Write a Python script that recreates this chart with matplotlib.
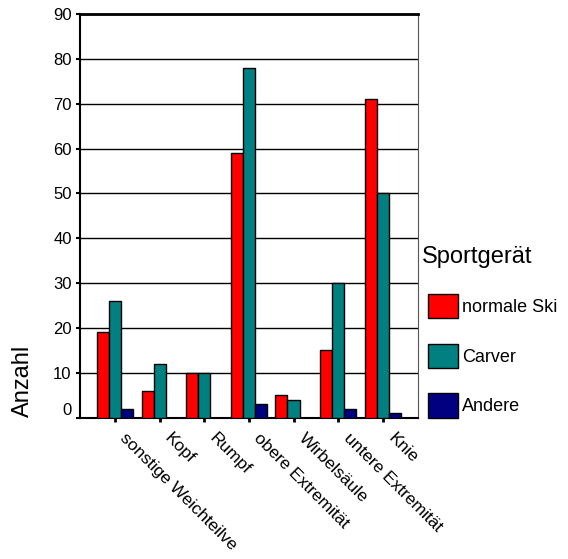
import numpy as np
import matplotlib
matplotlib.use("Agg")
import matplotlib.pyplot as plt
from matplotlib.container import BarContainer
from matplotlib.patches import Rectangle
from matplotlib.legend_handler import HandlerPatch
from matplotlib.transforms import ScaledTranslation

plt.rcParams["font.family"] = ["Liberation Sans", "DejaVu Sans"]

categories = ["sonstige Weichteilve", "Kopf", "Rumpf", "obere Extremität",
              "Wirbelsäule", "untere Extremität", "Knie"]
normale_ski = [19, 6, 10, 59, 5, 15, 71]
carver = [26, 12, 10, 78, 4, 30, 50]
andere = [2, 0, 0, 3, 0, 2, 1]
series = [("normale Ski", normale_ski, "#ff0000"),
          ("Carver", carver, "#008080"),
          ("Andere", andere, "#000080")]
yticks = [0, 10, 20, 30, 40, 50, 60, 70, 80, 90]

fig = plt.figure(figsize=(5.68, 5.59), dpi=100)
ax = fig.add_axes([80 / 568, 1 - 417.7 / 559, 338 / 568, 403.7 / 559])

x = np.arange(len(categories))
w = 0.27
for k, (name, vals, col) in enumerate(series):
    ax.bar(x + (k - 1) * w, vals, w, color=col, edgecolor="black",
           linewidth=1.0, label=name, zorder=3)

for y in yticks[1:]:
    ax.axhline(y, color="black", lw=1.0, zorder=1)

ax.set_xlim(-0.785, len(categories) - 1 + 0.79)
ax.set_ylim(0, 90)
ax.set_yticks(yticks)
ax.set_yticklabels([str(v) for v in yticks], fontsize=12)
ax.set_xticks(x)
ax.set_xticklabels(categories, fontsize=12.5, rotation=-45, ha="left", va="top",
                   rotation_mode="anchor")
ax.tick_params(axis="y", length=3, width=1.5, pad=3)
ax.tick_params(axis="x", length=3, width=2, pad=6)

for s in ["left", "bottom"]:
    ax.spines[s].set_linewidth(1.5)
ax.spines["top"].set_linewidth(2)
ax.spines["right"].set_linewidth(0.8)
ax.spines["right"].set_color("#555555")

ax.set_ylabel("Anzahl", fontsize=17)
ax.yaxis.set_label_coords(-46 / 338, 0.09)

# the zero label sits slightly above the axis line
lab0 = ax.yaxis.get_major_ticks()[0].label1
lab0.set_transform(lab0.get_transform() + ScaledTranslation(0, 9 / 100, fig.dpi_scale_trans))
# category labels start a bit right of their ticks
for lab in ax.get_xticklabels():
    lab.set_transform(lab.get_transform() + ScaledTranslation(13 / 100, 0, fig.dpi_scale_trans))


def shifted_box(legend, orig_handle, xdescent, ydescent, width, height, fontsize):
    off = 6 * 72 / 100
    return Rectangle((-xdescent + off, -ydescent), width - off, height)


def first_child(legend_handle, orig_handle):
    legend_handle.update_from(orig_handle[0])


leg = fig.legend(loc="upper left", bbox_to_anchor=(422 / 568, 1 - 246 / 559),
                 frameon=False, fontsize=13, title="Sportgerät",
                 title_fontsize=17, alignment="left", borderpad=0,
                 borderaxespad=0, handlelength=2.0, handleheight=1.69,
                 handletextpad=0.22, labelspacing=1.42,
                 handler_map={BarContainer: HandlerPatch(patch_func=shifted_box,
                                                         update_func=first_child)})

fig.savefig("out.png", dpi=100)
